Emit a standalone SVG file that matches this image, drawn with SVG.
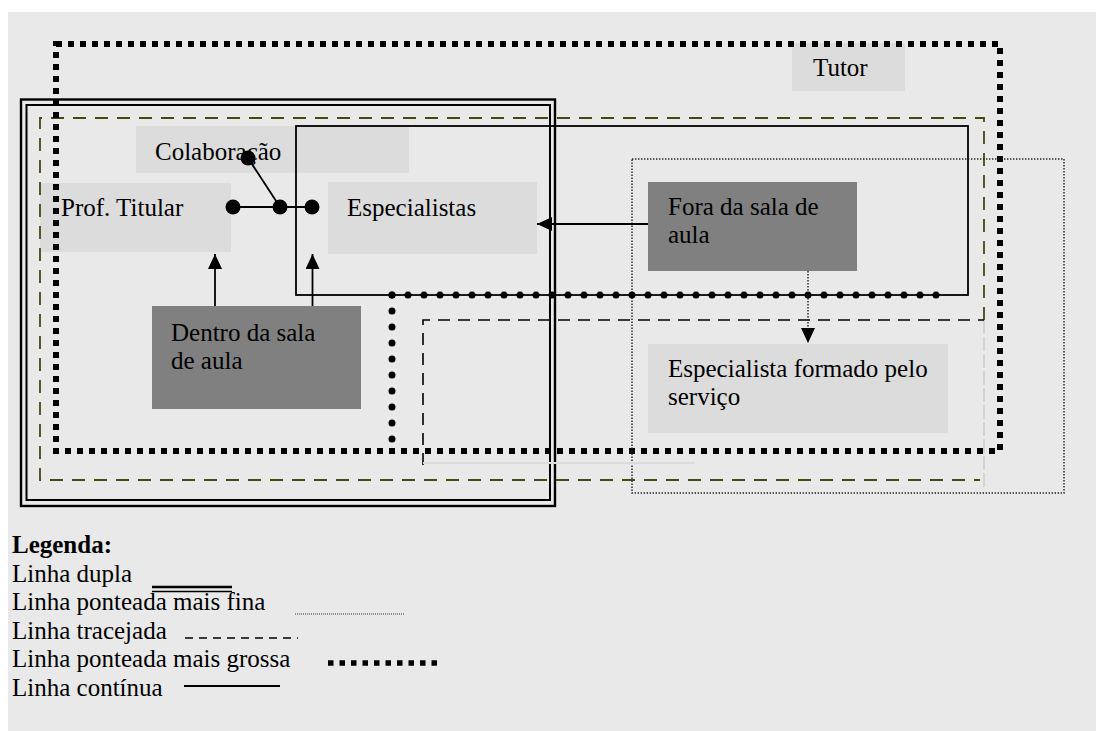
<svg xmlns="http://www.w3.org/2000/svg" width="1096" height="731" viewBox="0 0 1096 731">
  <defs>
    <marker id="arrow" viewBox="0 0 15 14" refX="15" refY="7" markerWidth="15" markerHeight="14" markerUnits="userSpaceOnUse" orient="auto">
      <path d="M0,0 L15,7 L0,14 z" fill="#000"/>
    </marker>
    <style>
      text { font-family: "Liberation Serif", "Times New Roman", serif; font-size: 25px; fill: #000; }
      .light { fill: #dcdcdc; }
      .dark { fill: #808080; }
      .frame { fill: none; }
      .thickdot { stroke: #000; stroke-width: 6; stroke-dasharray: 6 6; fill: none; }
      .finedot { stroke: #222; stroke-width: 1.4; stroke-dasharray: 1.4 1.6; fill: none; }
      .olive { stroke: #4a4712; stroke-width: 1.8; stroke-dasharray: 13 9; fill: none; }
      .dash { stroke: #000; stroke-width: 1.6; stroke-dasharray: 12 8; fill: none; }
      .solid { stroke: #000; stroke-width: 1.8; fill: none; }
      .rounddot { stroke: #000; stroke-width: 7; stroke-linecap: round; stroke-dasharray: 0 16; fill: none; }
      .conn { stroke: #000; stroke-width: 1.8; fill: none; }
    </style>
  </defs>

  <!-- page background -->
  <rect x="8" y="12" width="1088" height="719" fill="#e9e9e9"/>

  <!-- nodes -->
  <g id="node-tutor">
    <rect class="light" x="792" y="43" width="113" height="48"/>
    <text x="813" y="76">Tutor</text>
  </g>
  <g id="node-colaboracao">
    <rect class="light" x="136" y="126" width="273" height="47"/>
    <text x="155" y="160">Colaboração</text>
  </g>
  <g id="node-prof-titular">
    <rect class="light" x="40" y="183" width="191" height="69"/>
    <text x="61" y="216">Prof. Titular</text>
  </g>
  <g id="node-especialistas">
    <rect class="light" x="328" y="182" width="209" height="72"/>
    <text x="347" y="216">Especialistas</text>
  </g>
  <g id="node-fora">
    <rect class="dark" x="648" y="182" width="209" height="89"/>
    <text x="668" y="215">Fora da sala de</text>
    <text x="668" y="243">aula</text>
  </g>
  <g id="node-dentro">
    <rect class="dark" x="152" y="306" width="209" height="103"/>
    <text x="171" y="341">Dentro da sala</text>
    <text x="171" y="369">de aula</text>
  </g>
  <g id="node-especialista-formado">
    <rect class="light" x="648" y="344" width="300" height="89"/>
    <text x="668" y="377">Especialista formado pelo</text>
    <text x="668" y="405">serviço</text>
  </g>

  <!-- grouping frames -->
  <g id="frames">
    <!-- double line frame -->
    <rect class="frame" x="21" y="99.5" width="534" height="406.5" stroke="#000" stroke-width="2.4"/>
    <rect class="frame" x="26.5" y="105" width="523.5" height="395" stroke="#000" stroke-width="2"/>
    <!-- olive dashed frame (right side continues faint below) -->
    <path class="olive" d="M984,320 V118 H40 V480 H980"/>
    <line x1="984" y1="320" x2="984" y2="488" stroke="#c6c6be" stroke-width="1.2" stroke-dasharray="14 3"/>
    <!-- solid frame -->
    <rect class="solid" x="296" y="126" width="672" height="169"/>
    <!-- thick dotted frame -->
    <rect class="thickdot" x="56" y="44" width="944" height="407"/>
    <!-- fine dotted frame -->
    <rect class="finedot" x="632" y="159" width="432" height="334"/>
    <!-- black dashed frame, lower/right edges faint -->
    <path class="dash" d="M423,465 V320 H984"/>
    <line x1="423" y1="463" x2="695" y2="463" stroke="#dcdcdc" stroke-width="2"/>
    <!-- round dotted frame edges -->
    <path class="rounddot" d="M392,295 H937"/>
    <path class="rounddot" d="M392,295 V444"/>
  </g>

  <!-- connectors -->
  <g id="connectors">
    <line class="conn" x1="648" y1="224" x2="537" y2="224" marker-end="url(#arrow)"/>
    <line class="finedot" x1="808" y1="271" x2="808" y2="343" marker-end="url(#arrow)"/>
    <line class="conn" x1="215" y1="306" x2="215" y2="254" marker-end="url(#arrow)"/>
    <line class="conn" x1="312.5" y1="306" x2="312.5" y2="254" marker-end="url(#arrow)"/>
    <!-- collaboration junction -->
    <line class="conn" x1="233" y1="207" x2="312" y2="207"/>
    <line class="conn" x1="248" y1="158" x2="280" y2="207"/>
    <circle cx="233" cy="207" r="7.5" fill="#000"/>
    <circle cx="280" cy="207" r="7.5" fill="#000"/>
    <circle cx="312" cy="207" r="7.5" fill="#000"/>
    <circle cx="248" cy="158" r="7.5" fill="#000"/>
  </g>

  <!-- legend -->
  <g id="legend">
    <text x="12" y="553" font-weight="bold">Legenda:</text>
    <text x="12" y="581.5">Linha dupla</text>
    <line x1="152" y1="587" x2="232" y2="587" stroke="#000" stroke-width="2.6"/>
    <line x1="152" y1="591.5" x2="232" y2="591.5" stroke="#000" stroke-width="1.5"/>
    <text x="12" y="610">Linha ponteada mais fina</text>
    <line x1="295" y1="614" x2="405" y2="614" stroke="#333" stroke-width="1" stroke-dasharray="1 1"/>
    <text x="12" y="638.5">Linha tracejada</text>
    <line x1="185" y1="638" x2="298" y2="638" stroke="#000" stroke-width="1.6" stroke-dasharray="8 6"/>
    <text x="12" y="667">Linha ponteada mais grossa</text>
    <line x1="328" y1="663" x2="438" y2="663" stroke="#000" stroke-width="5.5" stroke-dasharray="5.5 6"/>
    <text x="12" y="695.5">Linha contínua</text>
    <line x1="184" y1="686" x2="280" y2="686" stroke="#000" stroke-width="2"/>
  </g>
</svg>
